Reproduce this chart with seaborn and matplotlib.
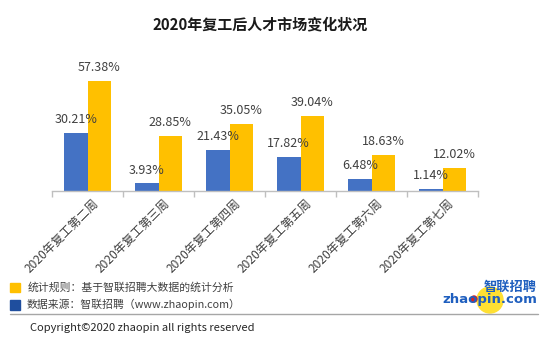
import matplotlib
matplotlib.use("Agg")
import matplotlib.pyplot as plt
from matplotlib.patches import Rectangle, Ellipse
from matplotlib.lines import Line2D
import seaborn as sns
import pandas as pd
import numpy as np

weeks = ["2020年复工第二周", "2020年复工第三周", "2020年复工第四周",
         "2020年复工第五周", "2020年复工第六周", "2020年复工第七周"]
series_a = [30.21, 3.93, 21.43, 17.82, 6.48, 1.14]
series_b = [57.38, 28.85, 35.05, 39.04, 18.63, 12.02]
series_names = ["A", "B"]

BLUE = "#4472C4"
YELLOW = "#FFC000"
TEXT = "#404040"

sns.set_theme(style="white")
plt.rcParams["font.family"] = ["Noto Sans CJK SC", "DejaVu Sans"]

df = pd.DataFrame({
    "week": weeks * 2,
    "series": [series_names[0]] * len(weeks) + [series_names[1]] * len(weeks),
    "value": series_a + series_b,
})

W, H = 550, 340
fig = plt.figure(figsize=(W / 100, H / 100), dpi=100)
ax = fig.add_axes([52 / W, 1 - 191 / H, (478 - 52) / W, (191 - 60) / H])

sns.barplot(data=df, x="week", y="value", hue="series", order=weeks,
            hue_order=series_names, palette=[BLUE, YELLOW], width=0.66,
            gap=0, saturation=1, legend=False, ax=ax, linewidth=0)

ax.set_ylim(0, 68.3)
ax.set_xlim(-0.5, len(weeks) - 0.5)
ax.set_xlabel("")
ax.set_ylabel("")
ax.set_yticks([])
for s in ["top", "right", "left"]:
    ax.spines[s].set_visible(False)
ax.spines["bottom"].set_color("#BFBFBF")
ax.spines["bottom"].set_linewidth(1)

# category boundary ticks
ax.set_xticks(np.arange(-0.5, len(weeks), 1.0), minor=True)
ax.tick_params(axis="x", which="minor", length=4, color="#BFBFBF", width=1, bottom=True)
ax.tick_params(axis="x", which="major", length=0, pad=4)
ax.set_xticks(range(len(weeks)))
ax.set_xticklabels(weeks, rotation=45, ha="right", rotation_mode="anchor",
                   fontsize=8.6, color=TEXT)
offset = matplotlib.transforms.ScaledTranslation(4 / 100, 0, fig.dpi_scale_trans)
for lbl in ax.get_xticklabels():
    lbl.set_transform(lbl.get_transform() + offset)

for container in ax.containers:
    ax.bar_label(container, labels=[f"{v:.2f}%" for v in container.datavalues],
                 padding=5, fontsize=9, color=TEXT)

# title
fig.text(260 / W, 1 - 24 / H, "2020年复工后人才市场变化状况", ha="center", va="center",
         fontsize=10.8, fontweight="bold", color="#1a1a1a")

# notes
fig.patches.append(Rectangle((10 / W, 1 - 292 / H), 10 / W, 9 / H,
                             transform=fig.transFigure, color=YELLOW))
fig.patches.append(Rectangle((10 / W, 1 - 310 / H), 10 / W, 10 / H,
                             transform=fig.transFigure, color="#1F4E9E"))
fig.text(28 / W, 1 - 287 / H, "统计规则：基于智联招聘大数据的统计分析", ha="left", va="center",
         fontsize=7.8, color=TEXT)
fig.text(27 / W, 1 - 304 / H, "数据来源：智联招聘（www.zhaopin.com）", ha="left", va="center",
         fontsize=7.8, color=TEXT)
fig.lines.append(Line2D([10 / W, 538 / W], [1 - 314 / H, 1 - 314 / H],
                        transform=fig.transFigure, color="#A6A6A6", linewidth=1))
fig.text(30 / W, 1 - 328 / H, "Copyright©2020 zhaopin all rights reserved", ha="left",
         va="center", fontsize=8, color="#262626")

# brand mark
fig.patches.append(Ellipse((490 / W, 1 - 300 / H), 26 / W, 26 / H,
                           transform=fig.transFigure, color="#FFE033"))
fig.text(537 / W, 1 - 287 / H, "智联招聘", ha="right", va="center", fontsize=9.5,
         fontweight="bold", style="italic", color="#1F5FBF")
fig.text(537 / W, 1 - 299 / H, "zhaopin.com", ha="right", va="center", fontsize=9.5,
         fontweight="bold", color="#1F5FBF", family=["DejaVu Sans"])
fig.patches.append(Ellipse((474 / W, 1 - 299 / H), 6 / W, 6 / H,
                           transform=fig.transFigure, color="#D62020"))

fig.savefig("out.png", dpi=100)
